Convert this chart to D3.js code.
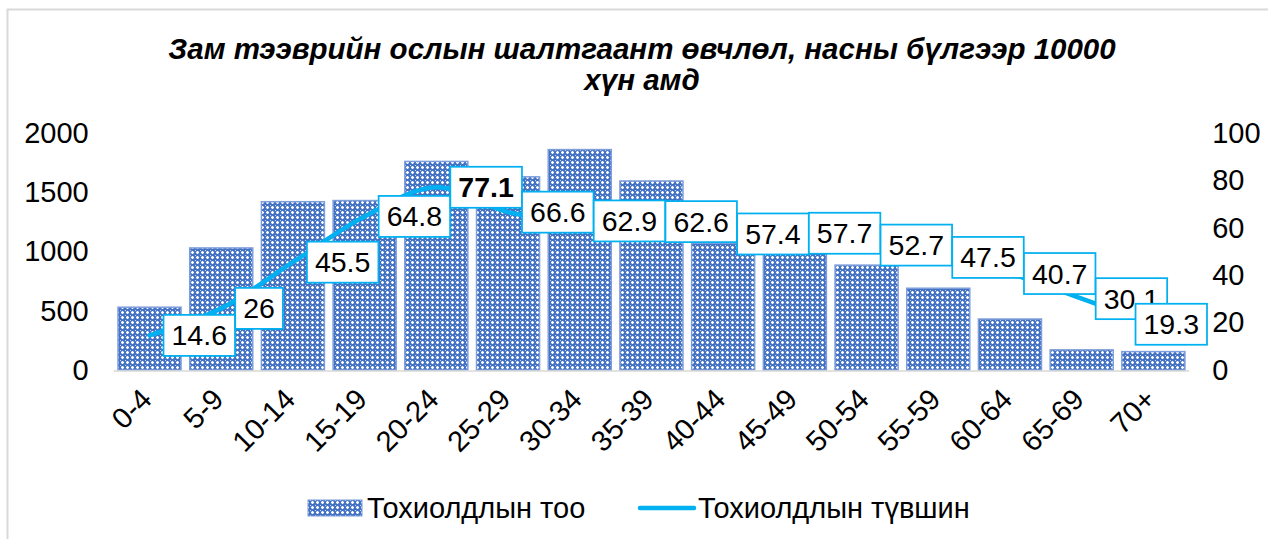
<!DOCTYPE html>
<html>
<head>
<meta charset="utf-8">
<script src="https://cdn.jsdelivr.net/npm/d3@7"></script>
<style>
  html, body { margin: 0; padding: 0; background: #fff; }
  svg { display: block; font-family: "Liberation Sans", Arial, sans-serif; }
</style>
</head>
<body>
<svg id="chart" width="1268" height="539"></svg>
<script>
const categories = ["0-4","5-9","10-14","15-19","20-24","25-29","30-34","35-39","40-44","45-49","50-54","55-59","60-64","65-69","70+"];
const counts = [530, 1030, 1420, 1430, 1760, 1630, 1860, 1595, 1070, 985, 885, 690, 430, 170, 155];
const rates = [14.6, 26, 45.5, 64.8, 77.1, 66.6, 62.9, 62.6, 57.4, 57.7, 52.7, 47.5, 40.7, 30.1, 19.3];
const leftTicks = [0, 500, 1000, 1500, 2000];
const rightTicks = [0, 20, 40, 60, 80, 100];
const titleLines = ["Зам тээврийн ослын шалтгаант өвчлөл, насны бүлгээр 10000", "хүн амд"];
const seriesNames = ["Тохиолдлын тоо", "Тохиолдлын түвшин"];
const boldLabelIndex = 4;

const svg = d3.select("#chart");
const W = 1268, H = 539;
const plot = {left: 113.7, right: 1189.2, top: 133, bottom: 370};
const FS = 29;

// pattern for bars
const defs = svg.append("defs");
const pat = defs.append("pattern").attr("id", "dots").attr("patternUnits", "userSpaceOnUse")
  .attr("width", 5).attr("height", 5);
pat.append("rect").attr("width", 5).attr("height", 5).attr("fill", "#4472C4");
pat.append("rect").attr("x", 1).attr("y", 2).attr("width", 3).attr("height", 1).attr("fill", "#fff");
pat.append("rect").attr("x", 2).attr("y", 1).attr("width", 1).attr("height", 3).attr("fill", "#fff");
pat.append("rect").attr("x", 1).attr("y", 1).attr("width", 3).attr("height", 3).attr("fill", "#fff").attr("opacity", 0.35);
pat.append("rect").attr("x", 0).attr("y", 0).attr("width", 1).attr("height", 1).attr("fill", "#c9d6f0");

// chart border
svg.append("rect").attr("x", 7.5).attr("y", 9.5).attr("width", W + 20).attr("height", H + 20)
  .attr("fill", "none").attr("stroke", "#d9d9d9").attr("stroke-width", 2);

// title
const title = svg.append("text").attr("text-anchor", "middle")
  .attr("font-size", 29.5).attr("font-weight", "bold").attr("font-style", "italic").attr("fill", "#000");
titleLines.forEach((t, i) => {
  title.append("tspan").attr("x", 642).attr("y", 59 + i * 31).text(t);
});

const x = d3.scaleBand().domain(categories).range([plot.left, plot.right]).paddingInner(0.121).paddingOuter(0.06);
const yL = d3.scaleLinear().domain([0, 2000]).range([plot.bottom, plot.top]);
const yR = d3.scaleLinear().domain([0, 100]).range([plot.bottom, plot.top]);

// bars
svg.append("g").selectAll("rect").data(categories).join("rect")
  .attr("x", d => x(d)).attr("width", x.bandwidth())
  .attr("y", (d, i) => yL(counts[i])).attr("height", (d, i) => yL(0) - yL(counts[i]))
  .attr("fill", "url(#dots)").attr("stroke", "#7d9ddb").attr("stroke-width", 1.5);

// horizontal axis line
svg.append("line").attr("x1", plot.left).attr("x2", plot.right)
  .attr("y1", plot.bottom + 1).attr("y2", plot.bottom + 1)
  .attr("stroke", "#d9d9d9").attr("stroke-width", 1.5);

// left axis
const axL = svg.append("g").attr("transform", `translate(${plot.left - 25},0)`)
  .call(d3.axisLeft(yL).tickValues(leftTicks).tickFormat(d3.format("d")).tickSize(0).tickPadding(0));
axL.select(".domain").remove();
axL.selectAll("text").attr("font-size", FS).attr("fill", "#000").attr("font-family", "Liberation Sans, Arial, sans-serif");

// right axis
const axR = svg.append("g").attr("transform", `translate(${plot.right + 23},0)`)
  .call(d3.axisRight(yR).tickValues(rightTicks).tickFormat(d3.format("d")).tickSize(0).tickPadding(0));
axR.select(".domain").remove();
axR.selectAll("text").attr("font-size", FS).attr("fill", "#000").attr("font-family", "Liberation Sans, Arial, sans-serif");

// x labels
svg.append("g").selectAll("text").data(categories).join("text")
  .attr("transform", d => `translate(${x(d) + x.bandwidth() / 2 + 4},${plot.bottom + 31}) rotate(-45)`)
  .attr("text-anchor", "end").attr("font-size", FS).attr("fill", "#000").text(d => d);

// line
const cx = d => x(d) + x.bandwidth() / 2;
const line = d3.line().x((d, i) => cx(categories[i])).y(d => yR(d)).curve(d3.curveCatmullRom.alpha(0.5));
svg.append("path").datum(rates).attr("d", line).attr("fill", "none")
  .attr("stroke", "#00B0F0").attr("stroke-width", 4.5).attr("stroke-linecap", "round");

// data labels
const lblG = svg.append("g");
rates.forEach((v, i) => {
  const px = cx(categories[i]), py = yR(v);
  const g = lblG.append("g");
  const r = g.append("rect");
  const t = g.append("text").attr("font-size", 28.5).attr("fill", "#000")
    .attr("font-weight", i === boldLabelIndex ? "bold" : "normal").text(v);
  const bb = t.node().getBBox();
  const bw = bb.width + 16, bh = 41;
  let bx = px + 14;
  if (bx + bw > 1207) bx = 1207 - bw;
  r.attr("x", bx).attr("y", py - bh / 2).attr("width", bw).attr("height", bh)
    .attr("fill", "#fff").attr("stroke", "#00B0F0").attr("stroke-width", 1.75);
  t.attr("x", bx + 8).attr("y", py + 10);
});

// legend
const lg = svg.append("g");
lg.append("rect").attr("x", 308).attr("y", 500).attr("width", 54).attr("height", 16)
  .attr("fill", "url(#dots)").attr("stroke", "#7d9ddb").attr("stroke-width", 1);
lg.append("text").attr("x", 367).attr("y", 518).attr("font-size", FS).attr("fill", "#000").text(seriesNames[0]);
lg.append("line").attr("x1", 640).attr("x2", 694).attr("y1", 508).attr("y2", 508)
  .attr("stroke", "#00B0F0").attr("stroke-width", 4.5).attr("stroke-linecap", "round");
lg.append("text").attr("x", 698).attr("y", 518).attr("font-size", FS).attr("fill", "#000").text(seriesNames[1]);
</script>
</body>
</html>
